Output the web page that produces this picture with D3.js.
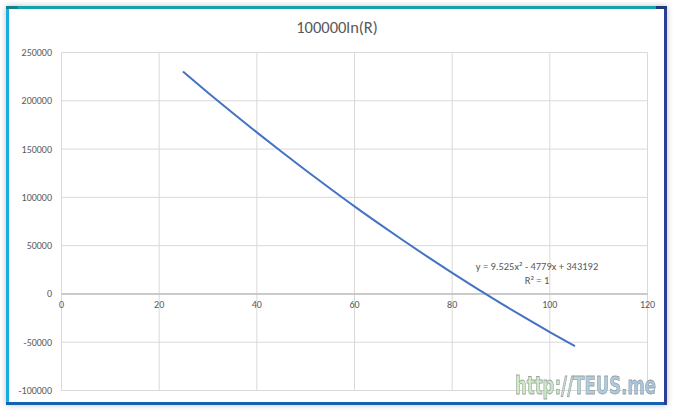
<!DOCTYPE html>
<html><head><meta charset="utf-8">
<script src="https://cdn.jsdelivr.net/npm/d3@7"></script>
<style>html,body{margin:0;padding:0;background:#fff;}svg{display:block;}</style>
</head><body>
<svg id="c" width="674" height="412"></svg>
<script>
const title = "100000ln(R)";
const xVals = [25,30,35,40,45,50,55,60,65,70,75,80,85,90,95,100,105];
const yVals = [229700,208400,187600,167300,147400,128100,109200,90700,72800,55300,38300,21800,5800,-9800,-24850,-39500,-53600];
const xTicks = [0,20,40,60,80,100,120];
const yTicks = [250000,200000,150000,100000,50000,0,-50000,-100000];
const eqLine1 = "y = 9.525x² - 4779x + 343192";
const eqLine2 = "R² = 1";
const watermark = "http://TEUS.me";

const svg = d3.select("#c");
const defs = svg.append("defs");
const f = defs.append("filter").attr("id","sh").attr("x","-5%").attr("y","-5%").attr("width","110%").attr("height","110%");
f.append("feGaussianBlur").attr("in","SourceAlpha").attr("stdDeviation",3);
f.append("feComponentTransfer").append("feFuncA").attr("type","linear").attr("slope",0.25);
const fm = f.append("feMerge"); fm.append("feMergeNode"); fm.append("feMergeNode").attr("in","SourceGraphic");

// frame
const L=6,T=6,R=667,B=405,bw=3;
svg.append("rect").attr("x",L).attr("y",T).attr("width",R-L).attr("height",B-T).attr("fill","#fff").attr("filter","url(#sh)");
svg.append("rect").attr("x",L).attr("y",T).attr("width",R-L).attr("height",bw).attr("fill","#14a3ad");
svg.append("rect").attr("x",L).attr("y",T).attr("width",bw).attr("height",B-T).attr("fill","#14aee0");
svg.append("rect").attr("x",L).attr("y",B-bw).attr("width",R-L).attr("height",bw).attr("fill","#155fb5");
svg.append("rect").attr("x",R-bw).attr("y",T).attr("width",bw).attr("height",B-T).attr("fill","#2c3f95");
svg.append("rect").attr("x",L).attr("y",T).attr("width",12).attr("height",bw).attr("fill","#117f8c");
svg.append("rect").attr("x",R-bw-8).attr("y",T).attr("width",bw+8).attr("height",bw).attr("fill","#1f3b7a");
svg.append("rect").attr("x",L).attr("y",B-bw).attr("width",bw+6).attr("height",bw).attr("fill","#1560b0");

const x = d3.scaleLinear().domain([0,120]).range([61.5,647.5]);
const y = d3.scaleLinear().domain([-100000,250000]).range([390.5,52.5]);

// grid
svg.append("g").selectAll("line").data(xTicks).join("line")
  .attr("x1",d=>x(d)).attr("x2",d=>x(d)).attr("y1",y(250000)).attr("y2",y(-100000))
  .attr("stroke","#d9d9d9").attr("stroke-width",1);
svg.append("g").selectAll("line").data(yTicks).join("line")
  .attr("x1",x(0)).attr("x2",x(120)).attr("y1",d=>y(d)).attr("y2",d=>y(d))
  .attr("stroke","#d9d9d9").attr("stroke-width",1);
// zero axis
svg.append("line").attr("x1",x(0)).attr("x2",x(120)).attr("y1",y(0)).attr("y2",y(0))
  .attr("stroke","#bfbfbf").attr("stroke-width",1.5);

const font = "Calibri, Carlito, 'Liberation Sans', Arial, sans-serif";
// y labels
svg.append("g").selectAll("text").data(yTicks).join("text")
  .attr("x",52).attr("y",d=>y(d)).attr("dy","0.35em").attr("text-anchor","end")
  .attr("font-family",font).attr("font-size",10).attr("fill","#595959").text(d=>d);
// x labels
svg.append("g").selectAll("text").data(xTicks).join("text")
  .attr("x",d=>x(d)).attr("y",y(0)+14).attr("text-anchor","middle")
  .attr("font-family",font).attr("font-size",10).attr("fill","#595959").text(d=>d);

// title
svg.append("text").attr("x",337).attr("y",33).attr("text-anchor","middle")
  .attr("font-family",font).attr("font-size",16.5).attr("fill","#595959").text(title);

// line
const pts = xVals.map((v,i)=>[v,yVals[i]]);
svg.append("path").datum(pts)
  .attr("d",d3.line().x(d=>x(d[0])).y(d=>y(d[1])).curve(d3.curveMonotoneX))
  .attr("fill","none").attr("stroke","#4472c4").attr("stroke-width",2).attr("stroke-linecap","round");

// equation
svg.append("text").attr("x",537).attr("y",270).attr("text-anchor","middle")
  .attr("font-family",font).attr("font-size",10.5).attr("fill","#595959").text(eqLine1);
svg.append("text").attr("x",537).attr("y",284).attr("text-anchor","middle")
  .attr("font-family",font).attr("font-size",10.5).attr("fill","#595959").text(eqLine2);

// watermark
const g = defs.append("linearGradient").attr("id","wm").attr("x1","0").attr("x2","1").attr("y1","0").attr("y2","0");
g.append("stop").attr("offset","0").attr("stop-color","#cdeebc");
g.append("stop").attr("offset","0.3").attr("stop-color","#c2e6c4");
g.append("stop").attr("offset","0.5").attr("stop-color","#a9cde0");
g.append("stop").attr("offset","1").attr("stop-color","#9fc2e4");
const wmG = svg.append("g");
const wm = wmG.append("text").attr("x",0).attr("y",0)
  .attr("font-family","'DejaVu Sans', sans-serif").attr("font-weight","bold").attr("font-size",24)
  .attr("fill","url(#wm)").attr("stroke","#9a9a9a").attr("stroke-width",0.8).attr("opacity",0.95)
  .text(watermark);
const natW = wm.node().getComputedTextLength();
wmG.attr("transform",`translate(515,394) scale(${141/natW},1)`);
</script>
</body></html>
